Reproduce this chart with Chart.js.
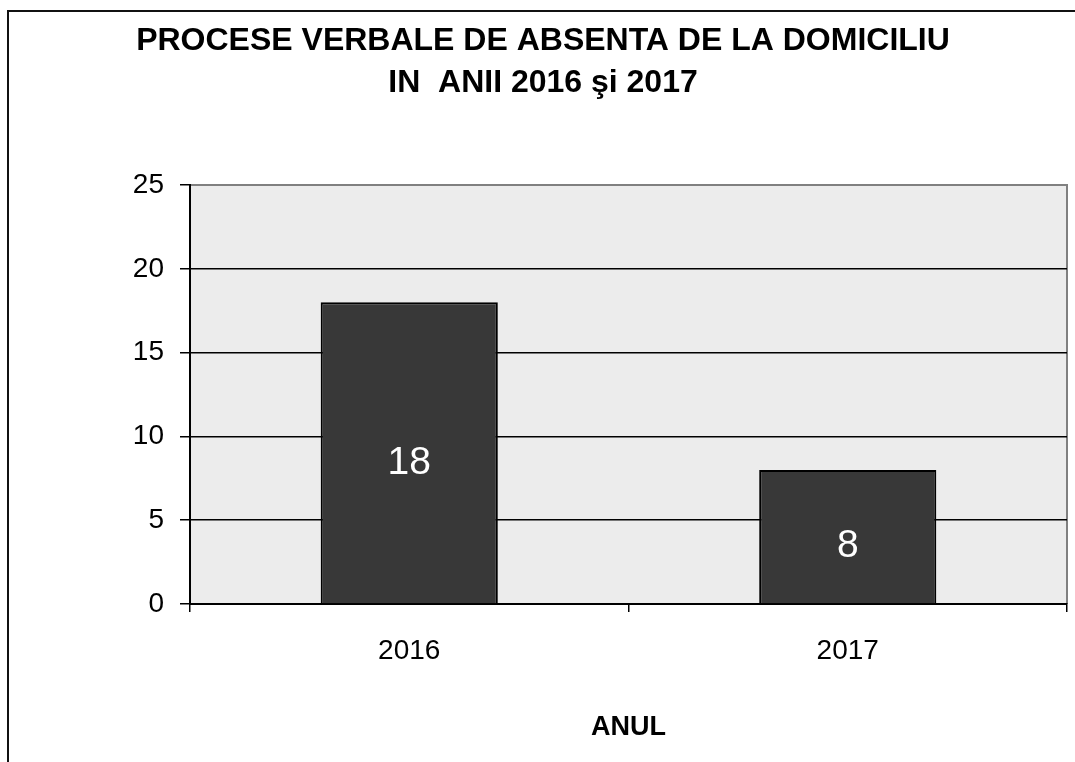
<!DOCTYPE html>
<html>
<head>
<meta charset="utf-8">
<script src="https://cdn.jsdelivr.net/npm/chart.js@4/dist/chart.umd.min.js"></script>
<style>
  html, body { margin: 0; padding: 0; background: #fff; }
  canvas { display: block; }
</style>
</head>
<body>
<canvas id="myChart" width="1075" height="762"></canvas>
<script>
var titleLines = ['PROCESE VERBALE DE ABSENTA DE LA DOMICILIU', 'IN  ANII 2016 \u015Fi 2017'];
var categories = ['2016', '2017'];
var values = [18, 8];
var yMin = 0;
var yMax = 25;
var yStep = 5;
var xTitle = 'ANUL';

var fontFamily = "'Liberation Sans', Arial, sans-serif";
Chart.defaults.color = '#000';
Chart.defaults.font.family = fontFamily;

// white page, outer frame and grey plot background
var backgroundPlugin = {
  id: 'backgroundPlugin',
  beforeDraw: function(chart) {
    var c = chart.ctx;
    var a = chart.chartArea;
    c.save();
    c.fillStyle = '#fff';
    c.fillRect(0, 0, chart.width, chart.height);

    c.strokeStyle = '#111';
    c.lineWidth = 2;
    c.beginPath();
    c.moveTo(8, chart.height + 5);
    c.lineTo(8, 11);
    c.lineTo(chart.width + 5, 11);
    c.stroke();

    c.fillStyle = '#ececec';
    c.fillRect(a.left, a.top, a.right - a.left, a.bottom - a.top);
    c.strokeStyle = '#808080';
    c.lineWidth = 2;
    c.beginPath();
    c.moveTo(a.left, a.top);
    c.lineTo(a.right, a.top);
    c.lineTo(a.right, a.bottom);
    c.stroke();
    c.restore();
  }
};

// value written inside each bar
var barLabels = {
  id: 'barLabels',
  afterDatasetsDraw: function(chart) {
    var c = chart.ctx;
    var meta = chart.getDatasetMeta(0);
    c.save();
    c.fillStyle = '#fff';
    c.font = '39px ' + fontFamily;
    c.textAlign = 'center';
    c.textBaseline = 'middle';
    meta.data.forEach(function(bar, i) {
      var mid = (bar.y + bar.base) / 2;
      c.fillText(String(chart.data.datasets[0].data[i]), bar.x, mid + 10);
    });
    c.restore();
  }
};

var ctx = document.getElementById('myChart').getContext('2d');
var myChart = new Chart(ctx, {
  type: 'bar',
  data: {
    labels: categories,
    datasets: [{
      data: values,
      backgroundColor: '#383838',
      borderColor: '#000',
      borderWidth: 2,
      categoryPercentage: 1,
      barPercentage: 0.404
    }]
  },
  options: {
    responsive: false,
    animation: false,
    devicePixelRatio: 1,
    layout: { padding: { left: 19, right: 8, top: 0, bottom: 0 } },
    plugins: {
      legend: { display: false },
      tooltip: { enabled: false },
      title: {
        display: true,
        text: titleLines,
        color: '#000',
        font: { family: fontFamily, size: 32, weight: 'bold', lineHeight: '42px' },
        padding: { top: 20, bottom: 81 }
      }
    },
    scales: {
      x: {
        offset: true,
        grid: {
          display: true,
          offset: true,
          drawOnChartArea: false,
          tickLength: 8,
          color: '#000',
          lineWidth: 1.5
        },
        border: { display: true, color: '#000', width: 2 },
        ticks: { padding: 22, font: { size: 28 }, color: '#000' },
        title: {
          display: true,
          text: xTitle,
          color: '#000',
          font: { size: 27, weight: 'bold' },
          padding: { top: 0, bottom: 18 }
        },
        afterFit: function(scale) { scale.height = 158; }
      },
      y: {
        min: yMin,
        max: yMax,
        ticks: { stepSize: yStep, padding: 16, font: { size: 28 }, color: '#000' },
        grid: {
          tickLength: 10,
          lineWidth: 1.5,
          color: function(c) { return c.tick && c.tick.value === yMax ? '#808080' : '#000'; },
          tickColor: '#000'
        },
        border: { display: true, color: '#000', width: 2 },
        afterFit: function(scale) { scale.width = 171; }
      }
    }
  },
  plugins: [backgroundPlugin, barLabels]
});
</script>
</body>
</html>
